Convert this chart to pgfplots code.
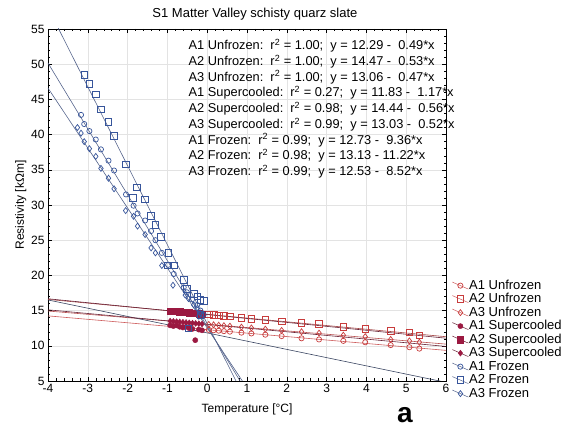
\documentclass[border=0pt]{standalone}
\usepackage{pgfplots}
\pgfplotsset{compat=1.18}
\usepackage{fontspec}
\setmainfont{Liberation Sans}
\definecolor{unfr}{RGB}{200,60,60}
\definecolor{unfrline}{RGB}{205,90,90}
\definecolor{sc}{RGB}{155,25,65}
\definecolor{scline}{RGB}{105,35,55}
\definecolor{fr}{RGB}{55,85,155}
\definecolor{frline}{RGB}{85,100,140}
\pgfplotsset{
  legU/.style={legend image code/.code={\draw[unfrline, line width=0.5pt] (0pt,3.5pt)--(16pt,-3.5pt); \draw[##1] plot coordinates {(8pt,0pt)};}},
  legS/.style={legend image code/.code={\draw[scline, line width=0.5pt] (0pt,3.5pt)--(16pt,-3.5pt); \draw[##1] plot coordinates {(8pt,0pt)};}},
  legF/.style={legend image code/.code={\draw[frline, line width=0.5pt] (0pt,3.5pt)--(16pt,-3.5pt); \draw[##1] plot coordinates {(8pt,0pt)};}},
}
\begin{document}
\begin{tikzpicture}
\begin{axis}[
  scale only axis, width=398pt, height=352pt,
  xmin=-4, xmax=6, ymin=5, ymax=55,
  xtick distance=1, ytick distance=5,
  minor x tick num=4, minor y tick num=4,
  tick align=inside, major tick length=4pt, minor tick length=2.5pt,
  tick style={black, thin},
  grid=major, major grid style={gray!22, thin},
  axis line style={black, thin},
  /pgf/number format/assume math mode=true,
  ticklabel style={font=\fontsize{12}{14}\selectfont},
  xlabel={Temperature [°C]}, ylabel={Resistivity [k\symbol{"03A9}m]},
  label style={font=\fontsize{12}{14}\selectfont},
  xlabel style={yshift=-4pt},
  ylabel style={yshift=-2pt},
  clip=false,
  legend cell align=left,
  legend style={draw=none, fill=none, at={(rel axis cs:1.015,0.29)}, anchor=north west,
    font=\fontsize{13}{15}\selectfont, row sep=0.5pt, inner sep=0pt,
    nodes={inner sep=0.5pt, text height=9.5pt, text depth=2.5pt}},
]
% bounding box
\path (axis cs:-5.206,-1.676) rectangle (axis cs:8.965,59.12);
% fit lines
\begin{scope}
\clip (rel axis cs:0,0) rectangle (rel axis cs:1,1);
\addplot[unfrline, line width=0.6pt, forget plot] coordinates {(-4,14.25) (6,9.35)};
\addplot[unfrline!80!black, line width=0.6pt, forget plot] coordinates {(-4,16.59) (6,11.29)};
\addplot[unfrline!90!black, line width=0.6pt, forget plot] coordinates {(-4,14.94) (6,10.24)};
\addplot[frline!70!black, line width=0.6pt, forget plot] coordinates {(-4,16.51) (6,4.81)};
\addplot[scline, line width=0.6pt, forget plot] coordinates {(-4,16.68) (6,11.08)};
\addplot[scline, line width=0.6pt, forget plot] coordinates {(-4,15.11) (6,9.91)};
\addplot[frline, line width=0.6pt, forget plot] coordinates {(-4,50.17) (6,-43.43)};
\addplot[frline, line width=0.6pt, forget plot] coordinates {(-4,58.01) (6,-54.19)};
\addplot[frline, line width=0.6pt, forget plot] coordinates {(-4,46.61) (6,-38.59)};
\end{scope}
% Unfrozen
\addplot[only marks, mark=o, mark size=2.6pt, unfr, mark options={fill=white, line width=0.7pt}, legU]
coordinates {(0.04,12.27) (0.16,12.21) (0.29,12.15) (0.42,12.08) (0.57,12.01) (0.86,11.87) (1.11,11.75) (1.46,11.58) (1.87,11.38) (2.37,11.06) (2.81,10.9) (3.42,10.7) (3.97,10.5) (4.61,10.1) (5.08,9.8) (5.33,9.6)};
\addlegendentry{A1 Unfrozen}
\addplot[only marks, mark=square, mark size=3.3pt, unfr, mark options={fill=white, line width=0.7pt}, legU]
coordinates {(0.04,14.45) (0.16,14.39) (0.29,14.32) (0.42,14.25) (0.57,14.17) (0.86,14.0) (1.11,13.85) (1.46,13.7) (1.87,13.5) (2.37,13.3) (2.81,13.1) (3.42,12.7) (3.97,12.4) (4.61,12.1) (5.08,11.9) (5.33,11.5)};
\addlegendentry{A2 Unfrozen}
\addplot[only marks, mark=diamond, mark size=3pt, unfr, mark options={fill=white, line width=0.7pt}, legU]
coordinates {(0.04,13.04) (0.16,12.98) (0.29,12.92) (0.42,12.86) (0.57,12.79) (0.86,12.65) (1.11,12.54) (1.46,12.37) (1.87,12.18) (2.37,12.0) (2.81,11.8) (3.42,11.5) (3.97,11.3) (4.61,10.9) (5.08,10.7) (5.33,10.5)};
\addlegendentry{A3 Unfrozen}
% Supercooled
\addplot[only marks, mark=*, mark size=2.6pt, sc, legS]
coordinates {(-0.93,12.9) (-0.85,12.8) (-0.77,12.9) (-0.69,12.7) (-0.61,12.6) (-0.53,12.7) (-0.45,12.5) (-0.37,12.4) (-0.30,10.8) (-0.21,12.3) (-0.13,12.2)};
\addlegendentry{A1 Supercooled}
\addplot[only marks, mark=square*, mark size=3.1pt, sc, legS]
coordinates {(-0.93,14.96) (-0.85,14.92) (-0.77,14.87) (-0.69,14.83) (-0.61,14.78) (-0.53,14.74) (-0.45,14.69) (-0.37,14.65) (-0.29,14.60) (-0.21,14.56) (-0.13,14.51)};
\addlegendentry{A2 Supercooled}
\addplot[only marks, mark=diamond*, mark size=3pt, sc, legS]
coordinates {(-0.93,13.51) (-0.85,13.47) (-0.77,13.43) (-0.69,13.39) (-0.61,13.35) (-0.53,13.31) (-0.45,13.26) (-0.37,13.22) (-0.29,13.18) (-0.21,13.14) (-0.13,13.10)};
\addlegendentry{A3 Supercooled}
% Frozen
\addplot[only marks, mark=o, mark size=2.6pt, fr, mark options={fill=white, line width=0.7pt}, legF]
coordinates {(-3.17,42.8) (-3.09,41.5) (-2.96,40.5) (-2.80,39.3) (-2.67,37.9) (-2.48,36.3) (-2.34,34.9) (-2.04,31.5) (-1.85,29.9) (-1.75,28.8) (-1.56,27.8) (-1.41,26.3) (-1.30,25.0) (-1.14,23.2) (-0.98,21.5) (-0.84,20.2) (-0.59,18.3) (-0.51,17.6) (-0.38,16.6) (-0.25,15.8) (-0.17,15.0) (-0.09,14.4)};
\addlegendentry{A1 Frozen}
\addplot[only marks, mark=square, mark size=3.3pt, fr, mark options={fill=white, line width=0.7pt}, legF]
coordinates {(-3.09,48.5) (-2.96,47.2) (-2.80,45.7) (-2.67,43.6) (-2.48,41.8) (-2.34,39.8) (-2.04,35.8) (-1.87,31.0) (-1.77,32.5) (-1.56,30.8) (-1.41,28.5) (-1.30,27.2) (-1.16,25.5) (-0.98,23.2) (-0.84,21.4) (-0.99,21.4) (-0.59,19.4) (-0.51,18.1) (-0.34,17.4) (-0.25,17.0) (-0.17,16.5) (-0.09,16.4) (-0.17,14.4) (-0.47,12.5)};
\addlegendentry{A2 Frozen}
\addplot[only marks, mark=diamond, mark size=3pt, fr, mark options={fill=white, line width=0.7pt}, legF]
coordinates {(-3.26,41.0) (-3.17,40.2) (-3.09,39.0) (-2.96,38.0) (-2.80,36.9) (-2.67,35.2) (-2.48,33.8) (-2.34,32.3) (-2.05,29.2) (-1.85,28.4) (-1.75,27.0) (-1.56,25.8) (-1.41,23.9) (-1.30,23.2) (-1.14,21.4) (-0.86,18.6) (-0.55,17.2) (-0.47,16.7) (-0.34,15.8) (-0.25,15.3) (-0.21,14.2) (-0.17,14.6)};
\addlegendentry{A3 Frozen}
% annotations
\node[anchor=north west, align=left, inner sep=0pt, font=\fontsize{12.8}{15.75}\selectfont]
  at (rel axis cs:0.353,0.972) {%
A1 Unfrozen:\ \ r\textsuperscript{2} = 1.00;\ \ y = 12.29 -\ \ 0.49*x\\
A2 Unfrozen:\ \ r\textsuperscript{2} = 1.00;\ \ y = 14.47 -\ \ 0.53*x\\
A3 Unfrozen:\ \ r\textsuperscript{2} = 1.00;\ \ y = 13.06 -\ \ 0.47*x\\
A1 Supercooled:\ \ r\textsuperscript{2} = 0.27;\ \ y = 11.83 -\ \ 1.17*x\\
A2 Supercooled:\ \ r\textsuperscript{2} = 0.98;\ \ y = 14.44 -\ \ 0.56*x\\
A3 Supercooled:\ \ r\textsuperscript{2} = 0.99;\ \ y = 13.03 -\ \ 0.52*x\\
A1 Frozen:\ \ r\textsuperscript{2} = 0.99;\ \ y = 12.73 -\ \ 9.36*x\\
A2 Frozen:\ \ r\textsuperscript{2} = 0.98;\ \ y = 13.13 - 11.22*x\\
A3 Frozen:\ \ r\textsuperscript{2} = 0.99;\ \ y = 12.53 -\ \ 8.52*x};
\node[anchor=south, font=\fontsize{13}{15}\selectfont] at (rel axis cs:0.52,1.015) {S1 Matter Valley schisty quarz slate};
\node[font=\fontsize{28}{30}\bfseries, anchor=base] at (rel axis cs:0.897,-0.118) {a};
\end{axis}
\end{tikzpicture}
\end{document}
